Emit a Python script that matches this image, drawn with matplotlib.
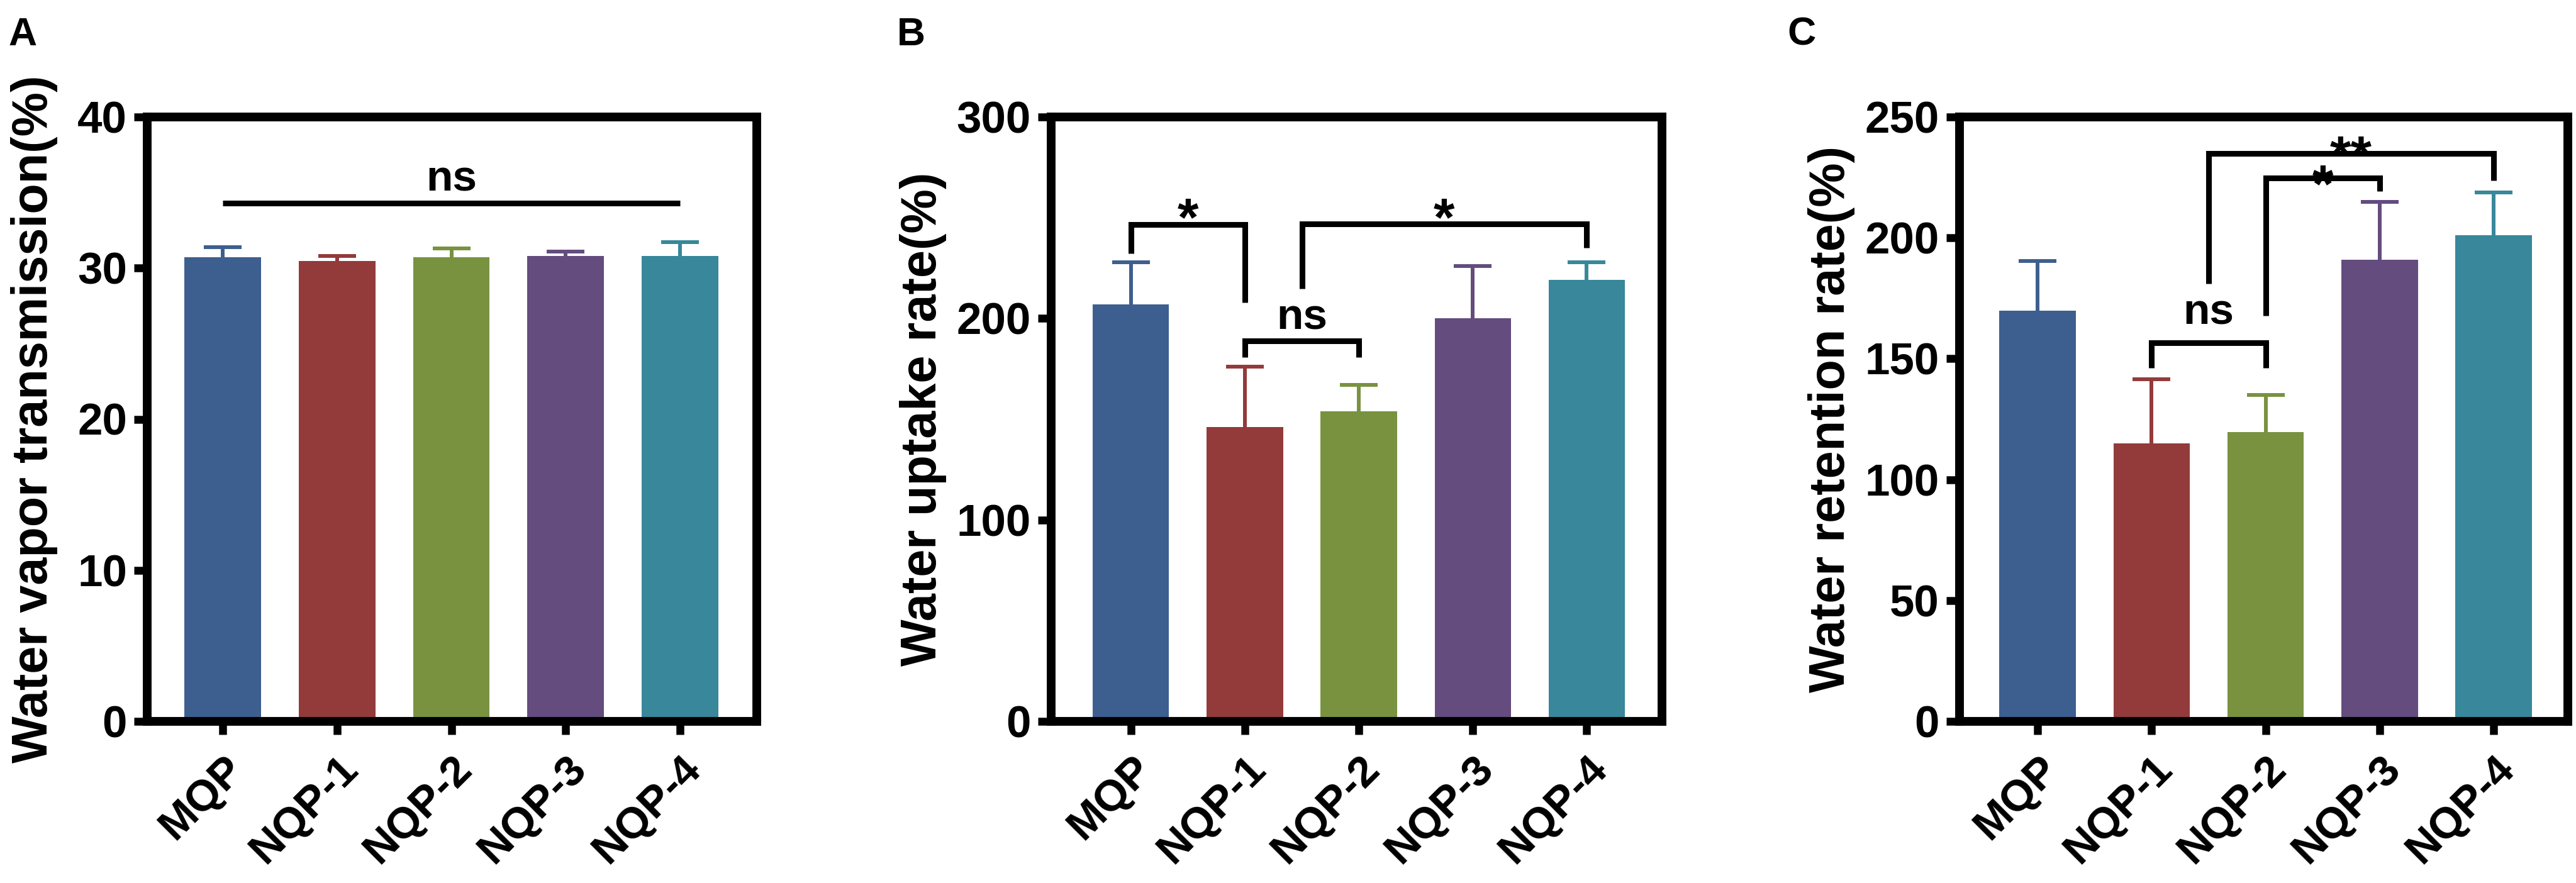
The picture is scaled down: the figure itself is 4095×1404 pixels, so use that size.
import matplotlib
matplotlib.use('Agg')
import matplotlib.pyplot as plt
import matplotlib.transforms as mtransforms
import numpy as np

plt.rcParams['font.family'] = ['Liberation Sans', 'DejaVu Sans']
plt.rcParams['font.weight'] = 'bold'

# ---------------- data ----------------
categories = ['MQP', 'NQP-1', 'NQP-2', 'NQP-3', 'NQP-4']
bar_colors = ['#3d5f8f', '#933a3a', '#789240', '#644c7e', '#38879b']

wvt_mean = [30.7, 30.45, 30.7, 30.8, 30.8]
wvt_err = [0.7, 0.35, 0.6, 0.3, 0.9]

wur_mean = [207, 146, 154, 200, 219]
wur_err = [21, 30, 13, 26, 9]

wrr_mean = [170, 115, 119.6, 191, 201]
wrr_err = [20.5, 26.4, 15.4, 24, 17.7]

ylabels = ['Water vapor transmission(%)', 'Water uptake rate(%)', 'Water retention rate(%)']
panel_letters = ['A', 'B', 'C']
yticks_list = [[0, 10, 20, 30, 40], [0, 100, 200, 300], [0, 50, 100, 150, 200, 250]]

# significance annotations: (x1, x2, y_line, left_leg_end, right_leg_end, label, label_y)
sig_A = [(0, 4, 34.3, 34.3, 34.3, 'ns', 35.1)]
sig_B = [(0, 1, 246.6, 232.3, 208, '*', 256.5),
         (1, 2, 189, 180.6, 180.6, 'ns', 194.5),
         (1.5, 4, 247, 214.7, 235, '*', 256.5)]
sig_C = [(1, 2, 156.5, 146.3, 146.3, 'ns', 164.4),
         (2, 3, 224.8, 167.8, 219.2, '*', 227.5),
         (1.5, 4, 235, 181, 223.8, '**', 239.5)]

# ---------------- layout ----------------
W, H = 4095, 1404
DPI = 100
fig = plt.figure(figsize=(W / DPI, H / DPI), dpi=DPI)

ax_top, ax_bot = 186, 1147
panels = [
    dict(left=234, right=1203, xlim=(-0.66, 4.67), mean=wvt_mean, err=wvt_err, sig=sig_A,
         ylab_x=-0.1465, letter_x=13),
    dict(left=1671, right=2642, xlim=(-0.70, 4.66), mean=wur_mean, err=wur_err, sig=sig_B,
         ylab_x=-0.171, letter_x=1426),
    dict(left=3115, right=4082, xlim=(-0.684, 4.65), mean=wrr_mean, err=wrr_err, sig=sig_C,
         ylab_x=-0.172, letter_x=2841),
]

for i, p in enumerate(panels):
    ax = fig.add_axes([p['left'] / W, 1 - ax_bot / H, (p['right'] - p['left']) / W, (ax_bot - ax_top) / H])
    x = np.arange(len(categories))
    ax.bar(x, p['mean'], width=0.67, color=bar_colors, edgecolor='none', zorder=2)
    for xi, m, e, c in zip(x, p['mean'], p['err'], bar_colors):
        _, caps, _ = ax.errorbar([xi], [m], yerr=[[0], [e]], fmt='none', ecolor=c, elinewidth=4.3,
                                 capsize=21.6, capthick=4.3, zorder=1)
        # keep only the upper cap
        if len(caps) == 2:
            caps[0].remove()
    ax.set_xlim(*p['xlim'])
    yt = yticks_list[i]
    ax.set_ylim(yt[0], yt[-1])
    ax.set_yticks(yt)
    ax.set_yticklabels([str(v) for v in yt], fontsize=51, fontweight='bold')
    ax.set_xticks(x)
    ax.set_xticklabels(categories, fontsize=50, fontweight='bold', rotation=45,
                       ha='right', rotation_mode='anchor')
    for lab in ax.get_xticklabels():
        lab.set_transform(lab.get_transform() + mtransforms.ScaledTranslation(-0.16, 0, fig.dpi_scale_trans))
    ax.tick_params(axis='both', direction='out', length=15, width=9, color='black')
    ax.tick_params(axis='y', pad=8)
    ax.tick_params(axis='x', pad=16)
    for s in ax.spines.values():
        s.set_linewidth(10)
        s.set_color('black')
    ax.set_ylabel(ylabels[i], fontsize=57, fontweight='bold')
    ax.yaxis.set_label_coords(p['ylab_x'], 0.5)

    for (x1, x2, yl, l1, l2, txt, ty) in p['sig']:
        ax.plot([x1, x1, x2, x2], [l1, yl, yl, l2], color='black', lw=6.5,
                solid_joinstyle='miter', solid_capstyle='butt', zorder=3, clip_on=False)
        if txt == 'ns':
            ax.text((x1 + x2) / 2, ty, txt, ha='center', va='baseline', fontsize=50,
                    fontweight='bold', zorder=4)
        else:
            off = mtransforms.ScaledTranslation(0, -0.57 * 62 / 72, fig.dpi_scale_trans)
            ax.text((x1 + x2) / 2, ty, txt, ha='center', va='baseline', fontsize=62,
                    fontweight='bold', zorder=4, transform=ax.transData + off)

    fig.text(p['letter_x'] / W, 1 - 72 / H, panel_letters[i], fontsize=45, fontweight='bold',
             ha='left', va='baseline')

fig.savefig('out.png', dpi=DPI, facecolor='white')
